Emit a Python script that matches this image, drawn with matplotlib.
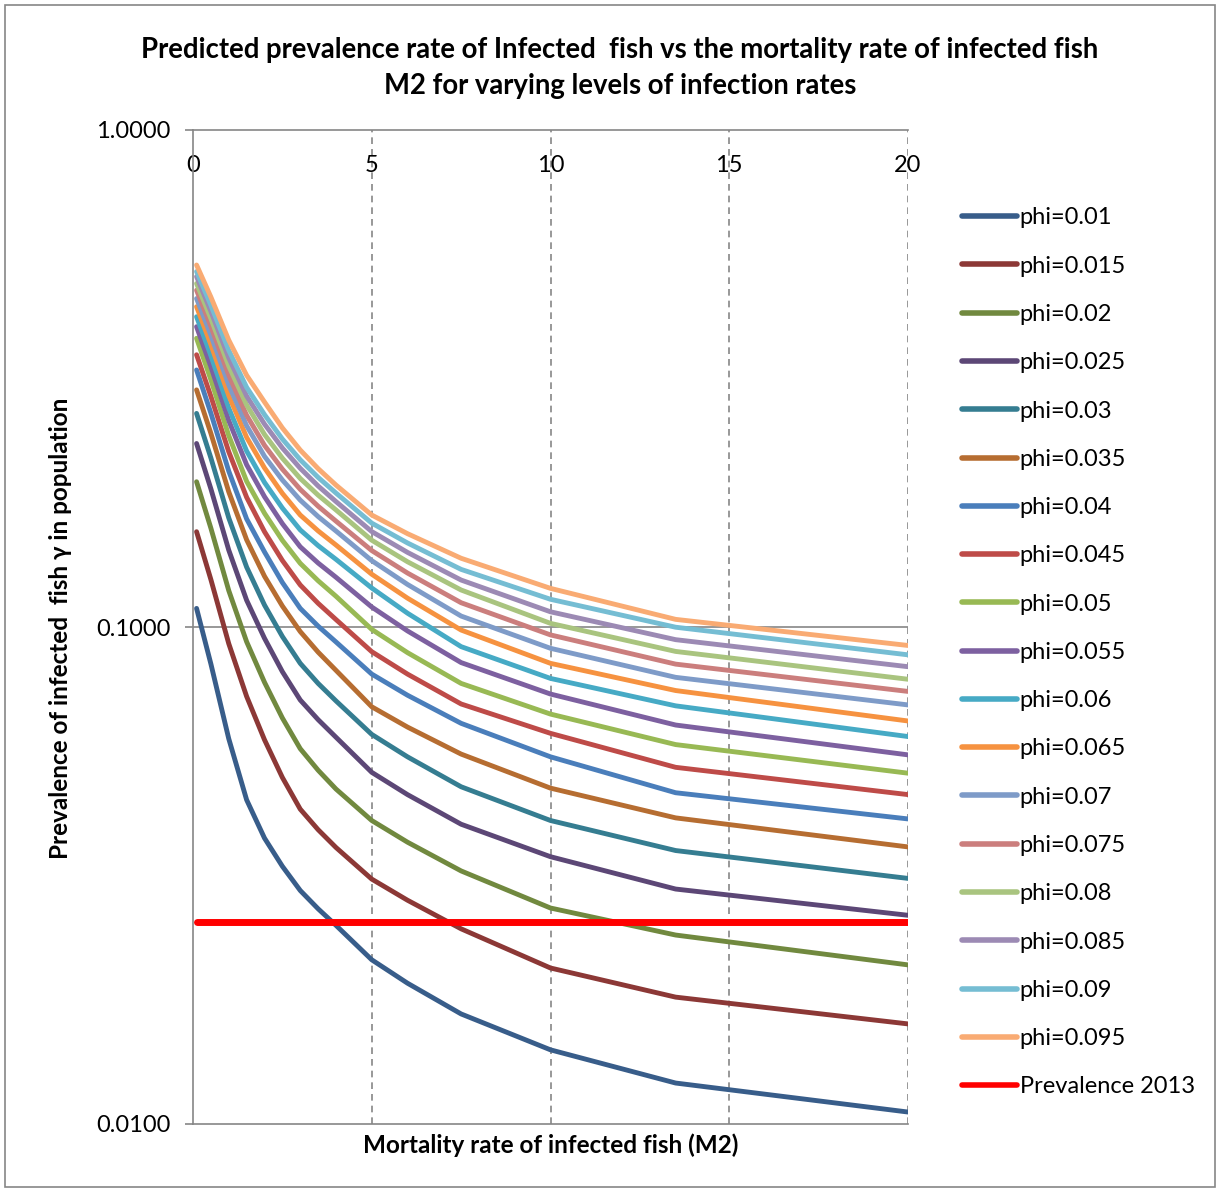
import matplotlib
matplotlib.use("Agg")
import matplotlib.pyplot as plt
import matplotlib.ticker as ticker
from matplotlib.patches import Rectangle

plt.rcParams["font.family"] = ["Lato", "DejaVu Sans"]

# Mortality rate of infected fish (M2) at which the curves were read
m2 = [0.1, 0.5, 1, 1.5, 2, 2.5, 3, 3.5, 4, 5, 6, 7.5, 10, 13.5, 20]

phi_labels = ["phi=0.01", "phi=0.015", "phi=0.02", "phi=0.025", "phi=0.03",
              "phi=0.035", "phi=0.04", "phi=0.045", "phi=0.05", "phi=0.055",
              "phi=0.06", "phi=0.065", "phi=0.07", "phi=0.075", "phi=0.08",
              "phi=0.085", "phi=0.09", "phi=0.095"]

phi_010 = [0.109, 0.0843, 0.0596, 0.0449, 0.0376, 0.0330, 0.0295, 0.0271, 0.0251, 0.0214, 0.0192, 0.01665, 0.0141, 0.01209, 0.01057]
phi_015 = [0.1555, 0.1246, 0.0926, 0.0725, 0.0593, 0.0498, 0.0430, 0.0391, 0.0360, 0.0311, 0.0282, 0.0247, 0.0206, 0.0180, 0.0159]
phi_020 = [0.196, 0.1581, 0.1184, 0.0934, 0.0774, 0.0656, 0.0569, 0.0515, 0.0472, 0.0408, 0.0369, 0.0323, 0.0272, 0.0240, 0.0209]
phi_025 = [0.234, 0.1897, 0.1428, 0.1132, 0.0949, 0.0813, 0.0713, 0.0651, 0.0600, 0.0510, 0.0460, 0.0401, 0.0345, 0.0297, 0.0263]
phi_030 = [0.269, 0.2189, 0.1658, 0.132, 0.1107, 0.0957, 0.0845, 0.0770, 0.0710, 0.0608, 0.0548, 0.0477, 0.0408, 0.0355, 0.0312]
phi_035 = [0.300, 0.2453, 0.1871, 0.1498, 0.1265, 0.1102, 0.0979, 0.0890, 0.0818, 0.0691, 0.0629, 0.0555, 0.0474, 0.0413, 0.0361]
phi_040 = [0.329, 0.2693, 0.2059, 0.165, 0.1416, 0.1229, 0.109, 0.1004, 0.0933, 0.0804, 0.0729, 0.0640, 0.0548, 0.0464, 0.0411]
phi_045 = [0.353, 0.2912, 0.2252, 0.1824, 0.1555, 0.1361, 0.1215, 0.1116, 0.1035, 0.0892, 0.0804, 0.0700, 0.0611, 0.0522, 0.0460]
phi_050 = [0.381, 0.3144, 0.2427, 0.1964, 0.1694, 0.1494, 0.1343, 0.1239, 0.1153, 0.0989, 0.0888, 0.0770, 0.0668, 0.0580, 0.0508]
phi_055 = [0.402, 0.334, 0.2603, 0.2121, 0.1829, 0.1614, 0.145, 0.1345, 0.1259, 0.1097, 0.0982, 0.0848, 0.0733, 0.0635, 0.0553]
phi_060 = [0.421, 0.3516, 0.2758, 0.226, 0.1954, 0.1735, 0.1568, 0.1458, 0.1368, 0.1198, 0.1066, 0.0913, 0.0788, 0.0694, 0.0602]
phi_065 = [0.441, 0.3701, 0.2922, 0.2408, 0.209, 0.1857, 0.168, 0.1561, 0.1462, 0.1277, 0.1143, 0.0986, 0.0845, 0.0745, 0.0647]
phi_070 = [0.458, 0.3864, 0.3069, 0.2541, 0.2205, 0.1976, 0.180, 0.1668, 0.1560, 0.136, 0.1218, 0.1052, 0.0906, 0.0792, 0.0697]
phi_075 = [0.476, 0.4027, 0.321, 0.2667, 0.232, 0.2078, 0.1892, 0.1750, 0.1633, 0.1425, 0.1284, 0.1119, 0.0964, 0.0842, 0.0742]
phi_080 = [0.491, 0.4174, 0.335, 0.2798, 0.244, 0.2186, 0.199, 0.1842, 0.172, 0.1495, 0.1353, 0.1187, 0.1017, 0.0893, 0.0785]
phi_085 = [0.507, 0.4318, 0.348, 0.2916, 0.256, 0.2292, 0.2086, 0.1922, 0.1788, 0.1556, 0.1413, 0.1243, 0.1073, 0.0943, 0.0832]
phi_090 = [0.519, 0.4441, 0.3603, 0.3036, 0.2675, 0.2389, 0.217, 0.2000, 0.186, 0.1618, 0.1476, 0.1306, 0.1137, 0.0999, 0.0879]
phi_095 = [0.535, 0.4613, 0.3778, 0.321, 0.2836, 0.2515, 0.227, 0.2083, 0.193, 0.168, 0.1541, 0.1375, 0.1196, 0.1036, 0.0918]

series = [phi_010, phi_015, phi_020, phi_025, phi_030, phi_035, phi_040, phi_045,
          phi_050, phi_055, phi_060, phi_065, phi_070, phi_075, phi_080, phi_085,
          phi_090, phi_095]

prevalence_2013 = 0.0255
prev_x = [0.1, 20]

colors = ["#385D8A", "#8C3836", "#71893F", "#5C4776", "#357D91", "#B66D31",
          "#4A7EBB", "#BE4B48", "#98B954", "#7D60A0", "#46AAC5", "#F69240",
          "#7E9BC8", "#CB7E7D", "#A9C47F", "#9C8AB4", "#75BDD3", "#F9AB73"]

fig = plt.figure(figsize=(12.2, 11.91), dpi=100)
ax = fig.add_axes([193 / 1220, 1 - 1124 / 1191, 715 / 1220, 994 / 1191])

for vals, lab, col in zip(series, phi_labels, colors):
    ax.plot(m2, vals, color=col, lw=3.5, label=lab, solid_capstyle="round",
            solid_joinstyle="round")
ax.plot(prev_x, [prevalence_2013] * 2, color="#FF0000", lw=5,
        label="Prevalence 2013", solid_capstyle="round")

ax.set_yscale("log")
ax.set_ylim(0.01, 1.0)
ax.set_xlim(0, 20)
ax.yaxis.set_major_locator(ticker.FixedLocator([0.01, 0.1, 1.0]))
ax.yaxis.set_minor_locator(ticker.NullLocator())
ax.yaxis.set_major_formatter(ticker.FuncFormatter(lambda v, p: f"{v:.4f}"))
ax.set_xticks([0, 5, 10, 15, 20])

ax.xaxis.set_ticks_position("top")
ax.tick_params(axis="x", length=0, pad=-33, labelsize=17)
ax.tick_params(axis="y", direction="out", length=6, width=1.2, color="#868686",
               labelsize=17, pad=10)

for s in ["left", "bottom", "top"]:
    ax.spines[s].set_color("#868686")
    ax.spines[s].set_linewidth(1.2)
ax.spines["right"].set_visible(False)

ax.axhline(0.1, color="#868686", lw=1.2, zorder=0)
for xv in [5, 10, 15, 20]:
    ax.axvline(xv, color="#868686", lw=1.2, ls=(0, (4, 3)), zorder=0)

ax.set_xlabel("Mortality rate of infected fish (M2)", fontsize=17.5,
              fontweight="bold")
ax.xaxis.set_label_position("bottom")
ax.xaxis.set_label_coords(0.5, -0.0095)
ax.xaxis.label.set_va("top")
ax.set_ylabel("Prevalence of infected  fish \u03b3 in population", fontsize=17.5,
              fontweight="bold")
ax.yaxis.set_label_coords(-0.169, 0.499)

fig.text(620 / 1220, 1 - 50 / 1191,
         "Predicted prevalence rate of Infected  fish vs the mortality rate of infected fish",
         ha="center", va="center", fontsize=19.8, fontweight="bold")
fig.text(620 / 1220, 1 - 86 / 1191, "M2 for varying levels of infection rates",
         ha="center", va="center", fontsize=19.8, fontweight="bold")

leg = fig.legend(loc="upper left", bbox_to_anchor=(953 / 1220, 1 - 198 / 1191),
                 frameon=False, fontsize=17, labelspacing=1.155, handlelength=2.33,
                 handletextpad=0.1, borderaxespad=0)
for h in leg.get_lines():
    h.set_linewidth(4)

fig.patches.append(Rectangle((5 / 1220, 4 / 1191), 1210 / 1220, 1182 / 1191,
                             transform=fig.transFigure, fill=False,
                             edgecolor="#868686", lw=1.2))

fig.savefig("out.png", dpi=100)
